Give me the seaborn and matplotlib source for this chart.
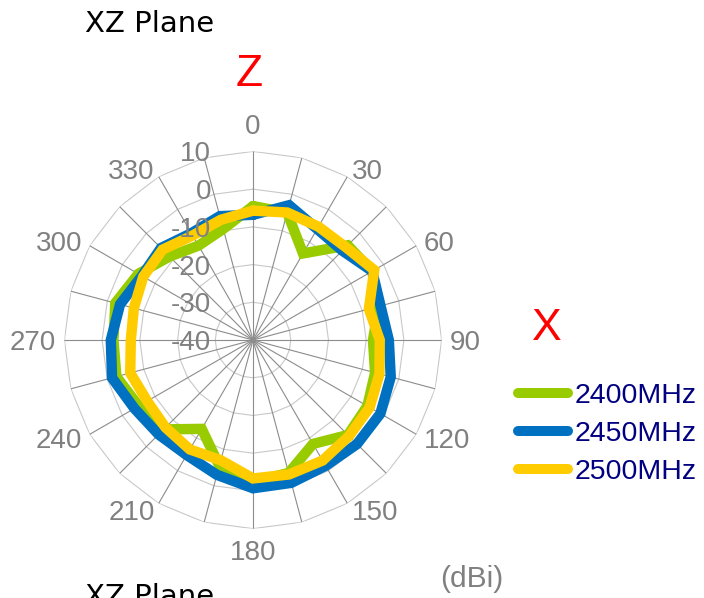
import numpy as np
import pandas as pd
import matplotlib
matplotlib.use("Agg")
import matplotlib.pyplot as plt
from matplotlib.lines import Line2D
from matplotlib.transforms import offset_copy
import seaborn as sns

# Data (dBi), every 15 deg clockwise from Z
angles_deg = list(range(0, 360, 15))
gain_2400 = [-4.5, -5.0, -13.5, -4.5, -3.5, -5.5, -8.2, -6.5, -5.0, -4.4, -8.2, -3.5,
             -2.5, -5.5, -12.8, -6.5, -5.0, -2.5, -3.0, -2.2, -4.9, -8.7, -11.1, -9.5]
gain_2450 = [-6.8, -3.0, -6.0, -6.5, -3.5, -5.0, -4.0, -2.2, -1.0, -1.0, -1.5, -0.8,
             -0.7, -3.0, -4.8, -4.6, -3.7, -1.3, -2.3, -3.5, -6.0, -5.5, -7.3, -6.0]
gain_2500 = [-5.7, -5.0, -5.3, -5.2, -2.9, -8.2, -6.4, -5.3, -4.3, -4.0, -3.1, -3.1,
             -3.3, -7.0, -6.5, -7.2, -7.6, -6.3, -7.6, -7.3, -6.4, -6.1, -8.0, -7.0]
series_names = ["2400MHz", "2450MHz", "2500MHz"]
series_colors = ["#99CC00", "#0070C0", "#FFCC00"]
r_ticks = [-40, -30, -20, -10, 0, 10]
angle_labels = list(range(0, 360, 30))

sns.set_style("white")
plt.rcParams['font.family'] = ['Liberation Sans', 'DejaVu Sans']

# long form table, each polygon closed back to 0 deg
rows = []
for name, vals in zip(series_names, [gain_2400, gain_2450, gain_2500]):
    th = np.deg2rad(angles_deg + [360])
    for t, v in zip(th, vals + [vals[0]]):
        rows.append({"theta": t, "gain": v, "Frequency": name})
df = pd.DataFrame(rows)

fig = plt.figure(figsize=(7.04, 5.98), dpi=100)
ax = fig.add_axes([0.0915, 0.116, 0.5358, 0.6308], projection='polar')
ax.set_theta_zero_location('N')
ax.set_theta_direction(-1)
ax.set_ylim(r_ticks[0], r_ticks[-1])
ax.grid(False)
ax.set_xticks([])
ax.set_yticks([])
ax.spines['polar'].set_visible(False)

# polygon grid like a radar chart
spokes = np.deg2rad(angles_deg)
ring_th = np.deg2rad(angles_deg + [360])
for lvl in r_ticks[1:]:
    ax.plot(ring_th, [lvl] * len(ring_th), color='#c8c8c8', lw=0.8, zorder=1)
for t in spokes:
    ax.plot([t, t], [r_ticks[0], r_ticks[-1]], color='#8c8c8c', lw=0.8, zorder=1)

sns.lineplot(data=df, x="theta", y="gain", hue="Frequency", palette=dict(zip(series_names, series_colors)),
             hue_order=series_names, sort=False, estimator=None, lw=7.5, legend=False, ax=ax, zorder=3)
for ln in ax.get_lines()[-3:]:
    ln.set_solid_joinstyle('miter')
ax.set_xlabel('')
ax.set_ylabel('')

# angle labels, anchored just outside the outer ring (Excel style)
for a in angle_labels:
    s, c = np.sin(np.deg2rad(a)), np.cos(np.deg2rad(a))
    ha = 'left' if s > 0.01 else ('right' if s < -0.01 else 'center')
    va, dy = 'center', -2.5
    if abs(s) < 0.01:
        va = 'bottom' if c > 0 else 'top'
        dy = 3 * c
    tr_a = offset_copy(ax.transData, fig=fig, x=8.4 * s, y=8.4 * c + dy, units='dots')
    ax.text(np.deg2rad(a), r_ticks[-1], str(a), transform=tr_a, ha=ha, va=va, fontsize=20, color='#808080')

# radial labels left of the vertical axis
tr = offset_copy(ax.transData, fig=fig, x=-42, y=-3, units='dots')
for lvl in r_ticks:
    ax.text(0, lvl, str(lvl), transform=tr, ha='right', va='center', fontsize=20, color='#808080')

fig.text(85 / 704, 1 - 10 / 598, "XZ Plane", ha='left', va='top', fontsize=21, family='DejaVu Sans', color='black')
fig.text(85 / 704, 1 - 583 / 598, "XZ Plane", ha='left', va='top', fontsize=21, family='DejaVu Sans', color='black')
fig.text(249 / 704, 1 - 75 / 598, "Z", ha='center', va='center', fontsize=32, color='red')
fig.text(547 / 704, 1 - 329 / 598, "X", ha='center', va='center', fontsize=32, color='red')
fig.text(472 / 704, 1 - 579 / 598, "(dBi)", ha='center', va='center', fontsize=21.5, color='#808080')

handles = [Line2D([0], [0], color=c, lw=7.2, solid_capstyle='round') for c in series_colors]
leg = fig.legend(handles, series_names, loc='center left', bbox_to_anchor=(518 / 704, 1 - 434 / 598),
                 frameon=False, fontsize=20.5, handlelength=1.75, handletextpad=0.25,
                 labelspacing=0.42, borderpad=0, borderaxespad=0)
for t in leg.get_texts():
    t.set_color('#000080')

fig.savefig("out.png", dpi=100)
